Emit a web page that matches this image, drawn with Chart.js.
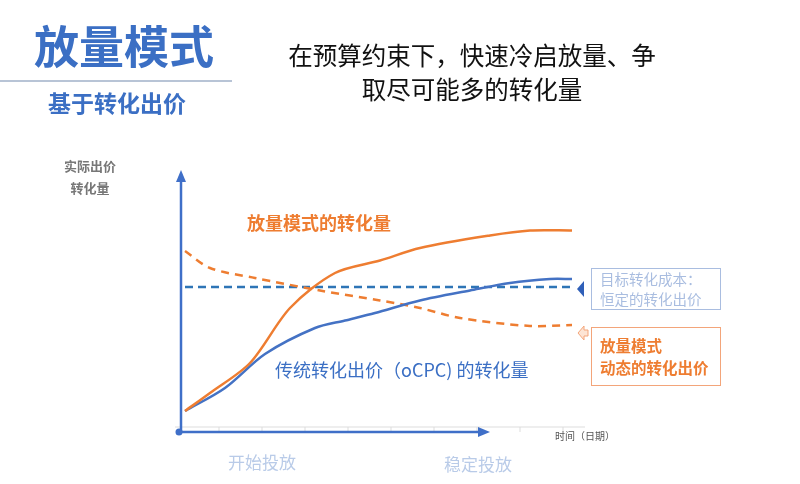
<!DOCTYPE html>
<html><head><meta charset="utf-8">
<script src="https://cdn.jsdelivr.net/npm/chart.js@4/dist/chart.umd.min.js"></script>
<style>
body{margin:0;width:800px;height:484px;overflow:hidden;background:#fff;font-family:"Noto Sans CJK SC",sans-serif;}
#wrap{position:relative;width:800px;height:484px;}
canvas{position:absolute;left:0;top:0;}
.t{position:absolute;white-space:nowrap;line-height:1.2;}
.box{position:absolute;border:1.5px solid;box-sizing:border-box;padding:3px 10px;line-height:1.45;}
</style></head><body>
<div id="wrap">
<canvas id="c" width="800" height="484"></canvas>
<div class="t" style="left:34px;top:18px;font-size:45px;font-weight:bold;color:#3b6fc4;">放量模式</div>
<div style="position:absolute;left:0;top:80px;width:232px;height:2px;background:#b8c4d6;"></div>
<div class="t" style="left:48px;top:89px;font-size:23px;font-weight:bold;color:#3b6fc4;">基于转化出价</div>
<div class="t" style="left:262px;top:38px;width:420px;text-align:center;font-size:24.5px;color:#111;line-height:1.4;">在预算约束下，快速冷启放量、争<br>取尽可能多的转化量</div>
<div class="t" style="left:60px;top:155px;width:60px;text-align:center;font-size:13px;font-weight:bold;color:#777;line-height:1.7;">实际出价<br>转化量</div>
<div class="t" style="left:247px;top:212px;font-size:18px;font-weight:bold;color:#ee7d31;">放量模式的转化量</div>
<div class="t" style="left:275px;top:359px;font-size:18px;color:#3b6fc4;">传统转化出价（oCPC) 的转化量</div>
<div class="box" style="left:591px;top:268px;width:130px;height:42px;border-color:#a9bde0;color:#a9bde0;font-size:14.5px;padding:0 8px;line-height:1.4;">目标转化成本：<br>恒定的转化出价</div>
<div class="box" style="left:591px;top:327px;width:130px;height:59px;border-color:#f3a57a;color:#ee7d31;font-size:15.5px;font-weight:bold;padding:6px 8px;">放量模式<br>动态的转化出价</div>
<div class="t" style="left:555px;top:430px;font-size:10px;color:#555;">时间（日期）</div>
<div class="t" style="left:228px;top:452px;font-size:17px;color:#b9cbe8;">开始投放</div>
<div class="t" style="left:444px;top:454px;font-size:17px;color:#b9cbe8;">稳定投放</div>
</div>
<script>
const orangeX=[0.5,3,7,11,15.5,20,24,31,35,39.2];
const orangeY=[6.8,14,26,48,62,67,72,77,79,79];
const blueX=[0.5,4.5,8.5,13.5,16.5,19.5,24,29,33,37,39.2];
const blueY=[6.8,16,29.6,40,43,46,51,55,58,59.6,59.6];
const odashX=[0.5,3,7.5,14,20,24,28,35,39.2];
const odashY=[70.8,64,60,55,51,48,44,40.8,41.2];
const targetX=[0.5,39.2];
const targetY=[56.4,56.4];
const pts=(xs,ys)=>xs.map((x,i)=>({x:x,y:ys[i]}));
const deco={id:'deco',afterDraw(ch){
 const c=ch.ctx;c.save();
 c.strokeStyle='#ddd';c.lineWidth=1;c.beginPath();c.moveTo(175,427);c.lineTo(585,427);c.stroke();
 for(let x=219;x<585;x+=43){c.beginPath();c.moveTo(x,427);c.lineTo(x,432);c.stroke();}
 c.strokeStyle='#3f6fc8';c.fillStyle='#3f6fc8';c.lineWidth=2.5;
 c.beginPath();c.moveTo(181,432);c.lineTo(181,180);c.stroke();
 c.beginPath();c.moveTo(176,182);c.lineTo(181,170);c.lineTo(186,182);c.fill();
 c.beginPath();c.moveTo(181,432);c.lineTo(480,432);c.stroke();
 c.beginPath();c.moveTo(478,427);c.lineTo(490,432);c.lineTo(478,437);c.fill();
 c.beginPath();c.arc(179,432,3.5,0,7);c.fill();
 c.fillStyle='#2f5fb8';c.beginPath();c.moveTo(577,289);c.lineTo(584,281);c.lineTo(584,297);c.fill();
 c.strokeStyle='#f3a57a';c.fillStyle='#fde4d4';c.lineWidth=1;c.beginPath();c.moveTo(578,333);c.lineTo(584,326);c.lineTo(584,330);c.lineTo(588,330);c.lineTo(588,336);c.lineTo(584,336);c.lineTo(584,340);c.closePath();c.fill();c.stroke();
 c.restore();}};
new Chart(document.getElementById('c'),{type:'line',
 data:{datasets:[
  {data:pts(orangeX,orangeY),borderColor:'#ee7d31',borderWidth:2.5,tension:0.3},
  {data:pts(blueX,blueY),borderColor:'#4472c4',borderWidth:2.5,tension:0.3},
  {data:pts(odashX,odashY),borderColor:'#ee7d31',borderWidth:2.5,borderDash:[8,6],tension:0.3},
  {data:pts(targetX,targetY),borderColor:'#2e75b6',borderWidth:2.5,borderDash:[8,5]}
 ]},
 options:{responsive:false,animation:false,events:[],
  elements:{point:{radius:0}},
  layout:{padding:{left:180,right:220,top:178,bottom:56}},
  plugins:{legend:{display:false},tooltip:{enabled:false}},
  scales:{x:{type:'linear',min:0,max:40,display:false},y:{min:0,max:100,display:false}}},
 plugins:[deco]});
</script></body></html>
